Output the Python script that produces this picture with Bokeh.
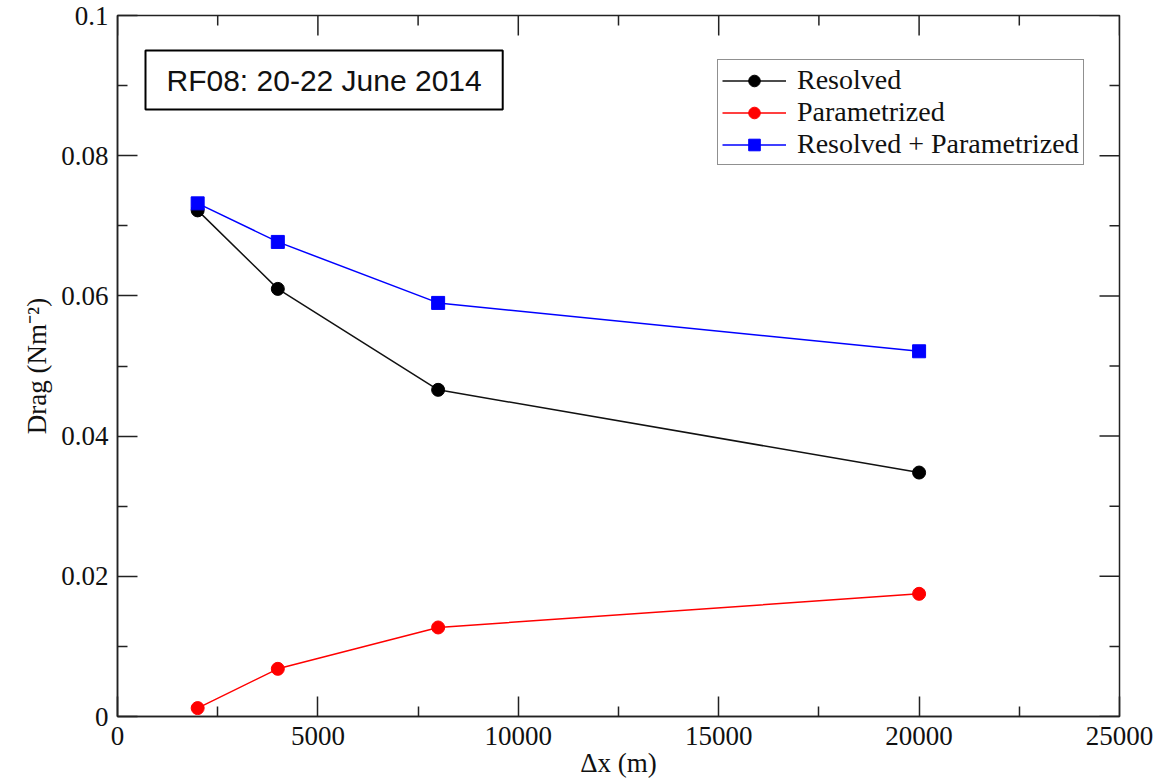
import math
from bokeh.plotting import figure
from bokeh.models import Range1d, FixedTicker, Legend, LegendItem, Label
from bokeh.embed import file_html
from bokeh.resources import INLINE

# ---- data ----
dx = [2000, 4000, 8000, 20000]
resolved = [0.0722, 0.0610, 0.0466, 0.0348]
parametrized = [0.0012, 0.0068, 0.0127, 0.0175]
total = [0.0732, 0.0677, 0.0590, 0.0521]

x_ticks = [0, 5000, 10000, 15000, 20000, 25000]
x_tick_labels = ["0", "5000", "10000", "15000", "20000", "25000"]
y_ticks = [0, 0.02, 0.04, 0.06, 0.08, 0.1]
y_tick_labels = ["0", "0.02", "0.04", "0.06", "0.08", "0.1"]

series_names = ["Resolved", "Parametrized", "Resolved + Parametrized"]
title_text = "RF08: 20-22 June 2014"
x_label = "Δx (m)"
y_label = "Drag (Nm⁻²)"

SERIF = "Liberation Serif"
AX = "#222222"

x_minor = [(a + b) / 2 for a, b in zip(x_ticks[:-1], x_ticks[1:])]
y_minor = [(a + b) / 2 for a, b in zip(y_ticks[:-1], y_ticks[1:])]

p = figure(width=1166, height=781, output_backend="svg", toolbar_location=None,
           x_range=Range1d(x_ticks[0], x_ticks[-1]), y_range=Range1d(y_ticks[0], y_ticks[-1]),
           min_border_left=117, min_border_right=47, min_border_top=15, min_border_bottom=65)
p.grid.visible = False
p.outline_line_color = AX
p.outline_line_width = 1.5
p.background_fill_color = "white"
p.border_fill_color = "white"

p.xaxis.ticker = FixedTicker(ticks=x_ticks, minor_ticks=x_minor)
p.yaxis.ticker = FixedTicker(ticks=y_ticks, minor_ticks=y_minor)
p.xaxis.major_label_overrides = {t: l for t, l in zip(x_ticks, x_tick_labels)}
p.yaxis.major_label_overrides = {t: l for t, l in zip(y_ticks, y_tick_labels)}
for ax in (p.xaxis[0], p.yaxis[0]):
    ax.axis_line_color = AX
    ax.axis_line_width = 1.5
    ax.major_tick_line_color = AX
    ax.minor_tick_line_color = AX
    ax.major_tick_line_width = 1.5
    ax.minor_tick_line_width = 1.5
    ax.major_tick_in = 20
    ax.major_tick_out = 0
    ax.minor_tick_in = 10
    ax.minor_tick_out = 0
    ax.major_label_text_font = SERIF
    ax.major_label_text_font_size = "27px"
    ax.major_label_text_color = "#111111"
    ax.axis_label_text_font = SERIF
    ax.axis_label_text_font_size = "27px"
    ax.axis_label_text_font_style = "normal"
    ax.axis_label_text_color = "#111111"
p.xaxis.major_label_standoff = 10
p.yaxis.major_label_standoff = 9
p.xaxis.axis_label = x_label
p.xaxis.axis_label_standoff = 0
p.yaxis.axis_label = y_label
p.yaxis.axis_label_standoff = 6

# mirrored tick marks on the top and right edges (half of each dash is clipped by the frame)
xtop = x_ticks + x_minor
ytop = [y_ticks[-1]] * len(xtop)
sz_top = [40] * len(x_ticks) + [20] * len(x_minor)
p.scatter(xtop, ytop, marker="dash", size=sz_top, angle=math.pi / 2,
          line_color=AX, line_width=1.5)
yright = y_ticks + y_minor
xright = [x_ticks[-1]] * len(yright)
sz_right = [40] * len(y_ticks) + [20] * len(y_minor)
p.scatter(xright, yright, marker="dash", size=sz_right,
          line_color=AX, line_width=1.5)

# ---- series ----
l1 = p.line(dx, resolved, line_color="#111111", line_width=1.5)
s1 = p.scatter(dx, resolved, marker="circle", size=13, fill_color="black", line_color="black")
l2 = p.line(dx, parametrized, line_color="#ff0000", line_width=1.5)
s2 = p.scatter(dx, parametrized, marker="circle", size=13, fill_color="#ff0000", line_color="#ff0000")
l3 = p.line(dx, total, line_color="#0000ff", line_width=1.5)
s3 = p.scatter(dx, total, marker="square", size=13, fill_color="#0000ff", line_color="#0000ff")

legend = Legend(items=[LegendItem(label=series_names[0], renderers=[l1, s1]),
                       LegendItem(label=series_names[1], renderers=[l2, s2]),
                       LegendItem(label=series_names[2], renderers=[l3, s3])],
                location=(600, 551))
legend.label_text_font = SERIF
legend.label_text_font_size = "28px"
legend.label_text_line_height = 0.95
legend.label_text_color = "#111111"
legend.glyph_width = 64
legend.glyph_height = 29
legend.label_height = 28
legend.label_standoff = 11
legend.padding = 4
legend.spacing = 0
legend.margin = 0
legend.border_line_color = AX
legend.border_line_width = 1.5
legend.background_fill_alpha = 1.0
p.add_layout(legend)

# ---- annotation box ----
box = Label(x=28, y=607, x_units="screen", y_units="screen", text=title_text,
            text_font="Liberation Sans", text_font_size="30px", text_color="#111111",
            border_line_color="black", border_line_width=2,
            background_fill_color="white",
            padding=dict(left=21, right=21, top=13, bottom=13))
p.add_layout(box)

open("out.html", "w").write(file_html(p, INLINE))
